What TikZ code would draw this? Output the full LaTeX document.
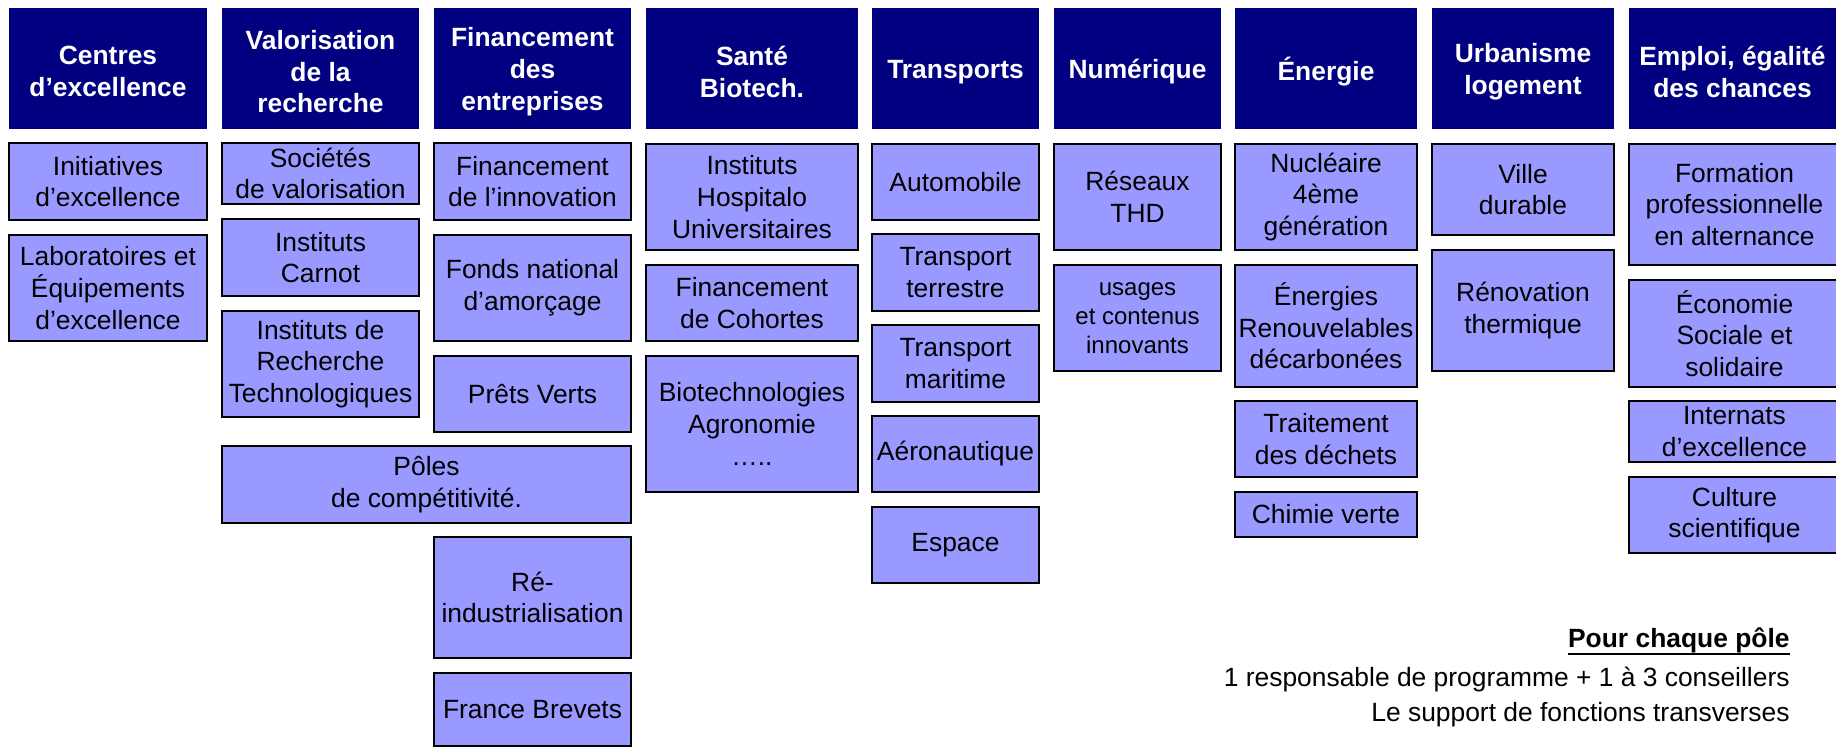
\documentclass[tikz,border=0pt]{standalone}
\usepackage{fontspec}
\setmainfont{Liberation Sans}
\newsavebox\ulbox
\newcommand\myul[1]{\sbox\ulbox{#1}\leavevmode\rlap{\vrule height -2.3pt depth 3.3pt width \wd\ulbox}\usebox\ulbox}
\definecolor{navyhead}{RGB}{0,0,128}
\definecolor{cellfill}{RGB}{153,153,255}
\newcommand\cellbox[7]{%
  \node[#1, minimum width={(#5-#3)*0.5pt}, minimum height={(#6-#4)*0.5pt}]
    (#2) at ({(#3+#5)/2},{(#4+#6)/2}) {#7};}
\newcommand\headbox[6]{%
  \node[head, minimum width={(#4-#2)*0.5pt}, minimum height={(#5-#3)*0.5pt}]
    (#1) at ({(#2+#4)/2},{(#3+#5)/2}) {};
  \node[headtext] (#1t) at ([yshift=-1.6pt]#1.center) {#6};}
\begin{document}
\begin{tikzpicture}[x=0.5pt,y=-0.5pt,
  cell/.style={draw=black, line width=1pt, fill=cellfill, inner sep=0pt, align=center,
    font=\fontsize{13.2}{15.8}\selectfont},
  smallcell/.style={cell, font=\fontsize{12}{14.5}\selectfont},
  head/.style={fill=navyhead, inner sep=0pt},
  headtext/.style={inner sep=0pt, align=center, text=white,
    font=\fontsize{13.2}{15.8}\selectfont\bfseries},
  note/.style={inner sep=0pt, anchor=base east, font=\fontsize{13.2}{15.8}\selectfont}
]
\useasboundingbox (0,0) rectangle (1836,747);
\fill[white] (0,0) rectangle (1836,747);
% headers
\headbox{h1}{9}{8}{207}{129}{Centres\\d’excellence}
\headbox{h2}{222}{8}{419}{129}{Valorisation\\de la\\recherche}
\headbox{h3}{434}{8}{631}{129}{Financement\\des\\entreprises}
\headbox{h4}{646}{8}{858}{129}{Santé\\Biotech.}
\headbox{h5}{872}{8}{1039}{129}{Transports}
\headbox{h6}{1054}{8}{1221}{129}{Numérique}
\headbox{h7}{1235}{8}{1417}{129}{Énergie}
\headbox{h8}{1432}{8}{1614}{129}{Urbanisme\\logement}
\headbox{h9}{1629}{8}{1836}{129}{Emploi, égalité\\des chances}
% column 1
\cellbox{cell}{c1a}{9}{143}{207}{220}{Initiatives\\d’excellence}
\cellbox{cell}{c1b}{9}{235}{207}{341}{Laboratoires et\\Équipements\\d’excellence}
% column 2
\cellbox{cell}{c2a}{222}{143}{419}{204}{Sociétés\\de valorisation}
\cellbox{cell}{c2b}{222}{219}{419}{296}{Instituts\\Carnot}
\cellbox{cell}{c2c}{222}{311}{419}{417}{Instituts de\\Recherche\\Technologiques}
\cellbox{cell}{c2d}{222}{446}{631}{523}{Pôles\\de compétitivité.}
% column 3
\cellbox{cell}{c3a}{434}{143}{631}{220}{Financement\\de l’innovation}
\cellbox{cell}{c3b}{434}{235}{631}{341}{Fonds national\\d’amorçage}
\cellbox{cell}{c3c}{434}{356}{631}{432}{Prêts Verts}
\cellbox{cell}{c3d}{434}{537}{631}{658}{Ré-\\industrialisation}
\cellbox{cell}{c3e}{434}{673}{631}{746}{France Brevets}
% column 4
\cellbox{cell}{c4a}{646}{144}{858}{250}{Instituts\\Hospitalo\\Universitaires}
\cellbox{cell}{c4b}{646}{265}{858}{341}{Financement\\de Cohortes}
\cellbox{cell}{c4c}{646}{356}{858}{492}{Biotechnologies\\Agronomie\\…..}
% column 5
\cellbox{cell}{c5a}{872}{144}{1039}{220}{Automobile}
\cellbox{cell}{c5b}{872}{234}{1039}{311}{Transport\\terrestre}
\cellbox{cell}{c5c}{872}{325}{1039}{402}{Transport\\maritime}
\cellbox{cell}{c5d}{872}{416}{1039}{492}{Aéronautique}
\cellbox{cell}{c5e}{872}{507}{1039}{583}{Espace}
% column 6
\cellbox{cell}{c6a}{1054}{144}{1221}{250}{Réseaux\\THD}
\cellbox{smallcell}{c6b}{1054}{265}{1221}{371}{usages\\et contenus\\innovants}
% column 7
\cellbox{cell}{c7a}{1235}{144}{1417}{250}{Nucléaire\\4ème\\génération}
\cellbox{cell}{c7b}{1235}{265}{1417}{387}{Énergies\\Renouvelables\\décarbonées}
\cellbox{cell}{c7c}{1235}{401}{1417}{477}{Traitement\\des déchets}
\cellbox{cell}{c7d}{1235}{492}{1417}{537}{Chimie verte}
% column 8
\cellbox{cell}{c8a}{1432}{144}{1614}{235}{Ville\\durable}
\cellbox{cell}{c8b}{1432}{250}{1614}{371}{Rénovation\\thermique}
% column 9
\cellbox{cell}{c9a}{1629}{144}{1840}{265}{Formation\\professionnelle\\en alternance}
\cellbox{cell}{c9b}{1629}{280}{1840}{387}{Économie\\Sociale et\\solidaire}
\cellbox{cell}{c9c}{1629}{401}{1840}{462}{Internats\\d’excellence}
\cellbox{cell}{c9d}{1629}{477}{1840}{553}{Culture\\scientifique}
% notes
\node[note] (n1) at (1790,648) {\myul{\textbf{Pour chaque pôle}}};
\node[note] (n2) at (1790,687) {1 responsable de programme + 1 à 3 conseillers};
\node[note] (n3) at (1790,722) {Le support de fonctions transverses};
\end{tikzpicture}
\end{document}
